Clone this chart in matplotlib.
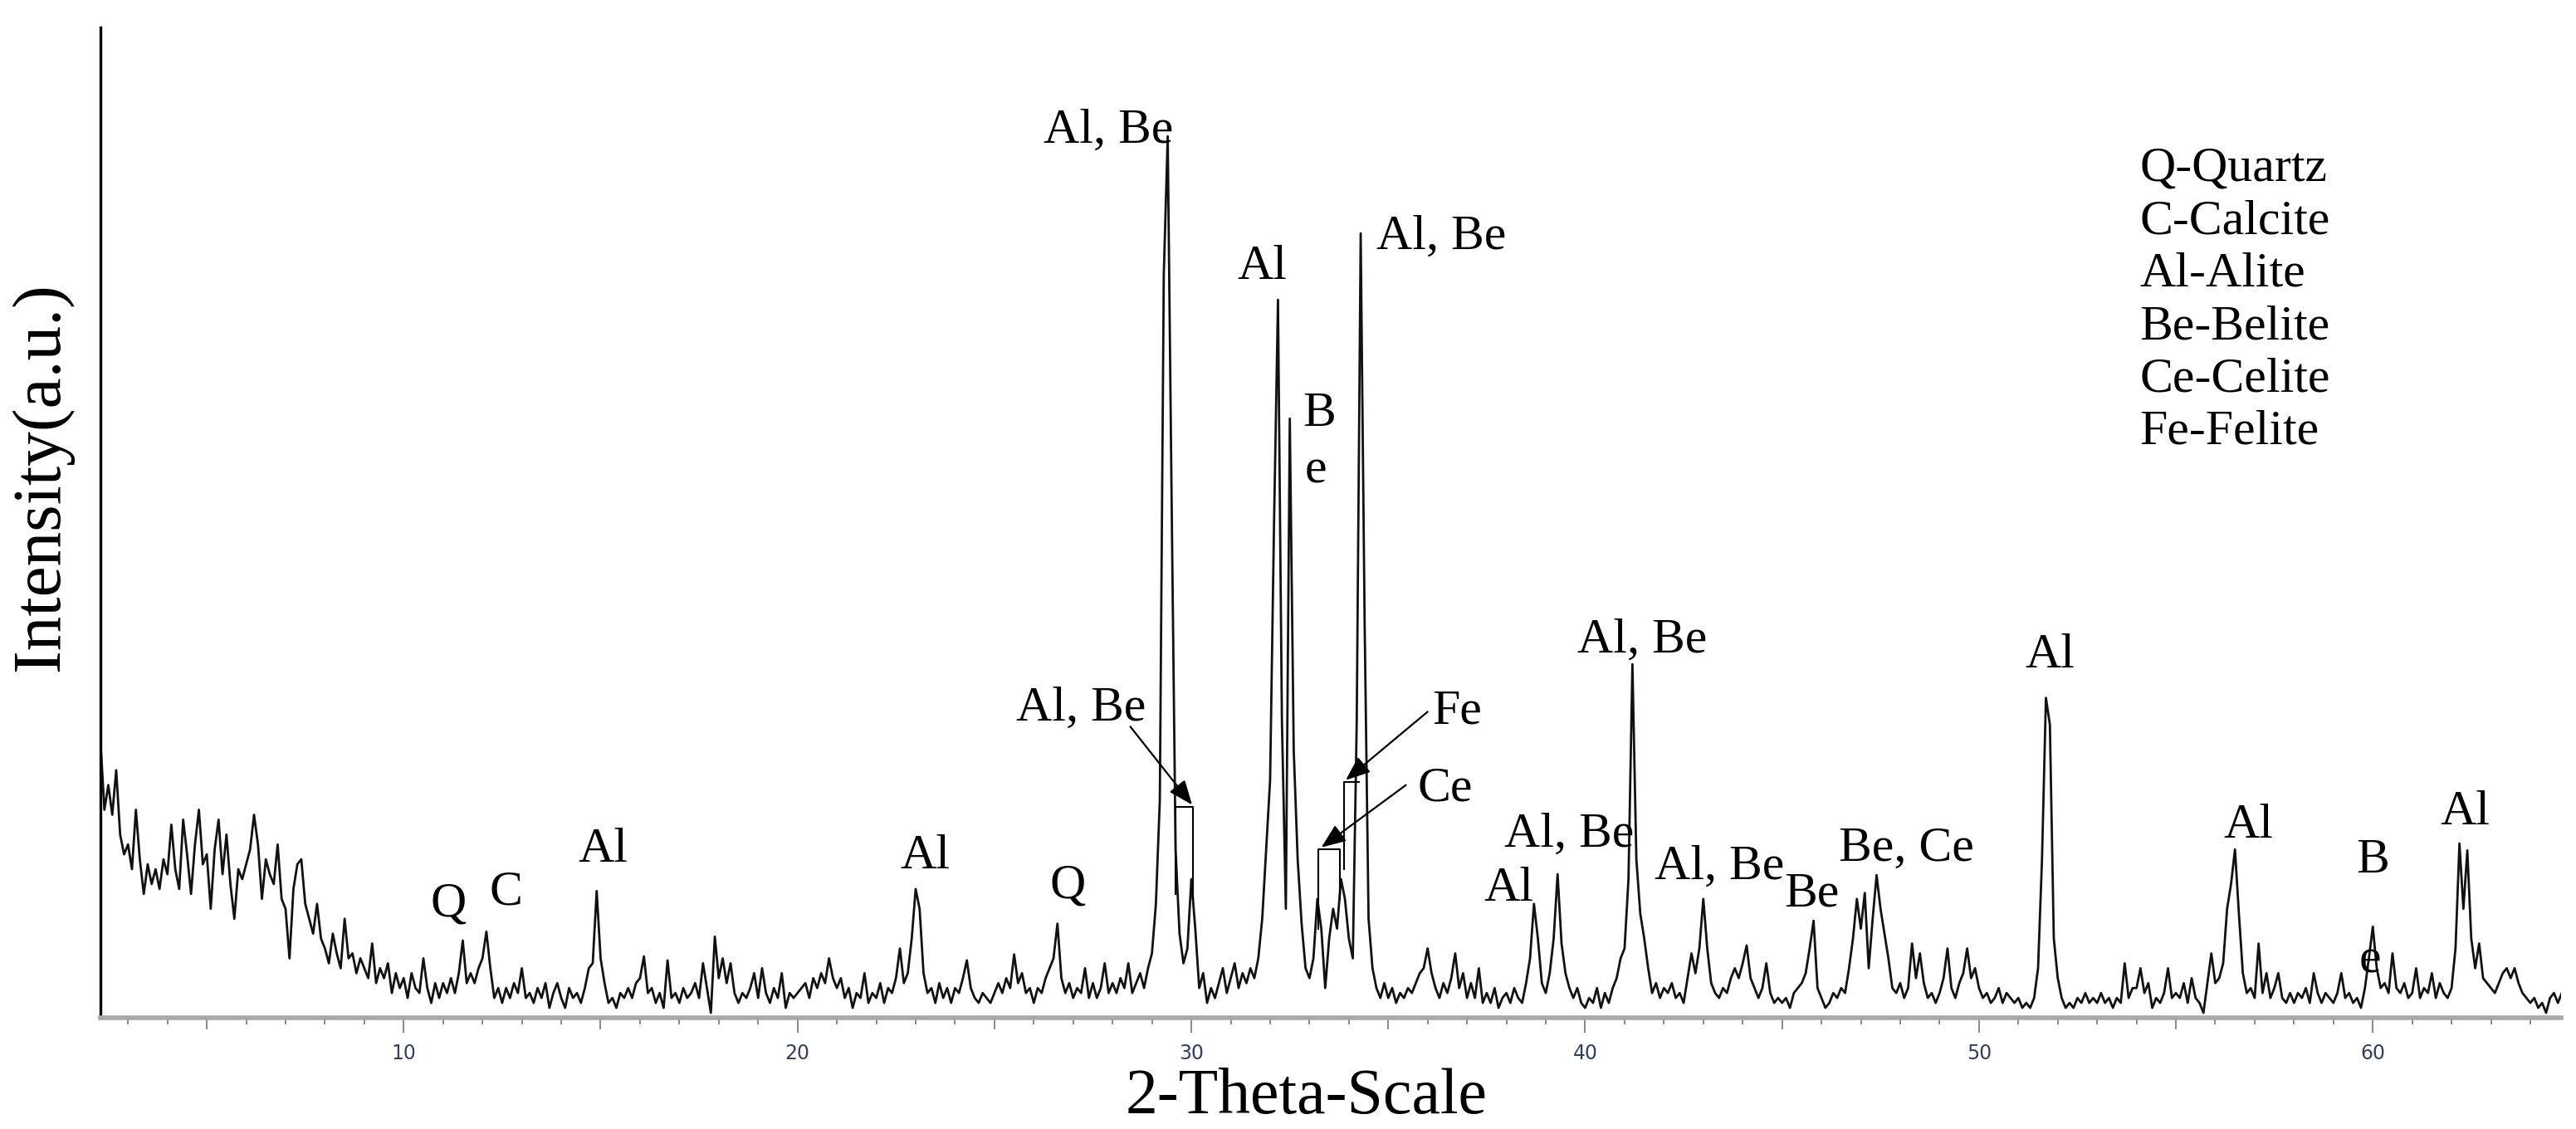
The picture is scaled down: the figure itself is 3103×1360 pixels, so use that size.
import numpy as np
import matplotlib.pyplot as plt
from matplotlib.ticker import MultipleLocator, FuncFormatter

plt.rcParams['font.family'] = ['Liberation Serif', 'DejaVu Serif']

# XRD scan: 2-theta from 2.3 deg in 0.1 deg steps
theta_start = 2.3
theta_step = 0.1
intensity = [
    # 2.3 - 2.9
    28.0, 21.0, 23.5, 20.5, 25.0, 18.5, 16.5,
    17.5, 15.0, 21.0, 16.0, 12.5, 15.5, 13.5, 15.0, 13.0, 16.0,   # 3
    14.5, 19.5, 15.0, 13.0, 20.0, 16.5, 12.5, 17.5, 21.0, 15.5,   # 4
    16.5, 11.0, 17.0, 20.0, 14.5, 18.5, 13.5, 10.0, 15.0, 14.0,   # 5
    15.5, 17.0, 20.5, 17.5, 12.0, 16.0, 14.5, 13.5, 17.5, 12.0,   # 6
    11.0, 6.0, 13.0, 15.5, 16.0, 11.5, 10.0, 8.5, 11.5, 8.0,      # 7
    7.0, 5.5, 8.5, 6.5, 5.0, 10.0, 6.0, 6.5, 4.5, 6.0,            # 8
    5.0, 4.0, 7.5, 3.5, 5.0, 4.0, 5.5, 2.5, 4.5, 3.0,             # 9
    4.0, 2.0, 4.5, 3.0, 2.5, 6.0, 3.0, 1.5, 3.5, 2.0,             # 10
    3.5, 2.5, 4.0, 2.5, 4.5, 7.8, 3.5, 4.5, 3.5, 5.0,             # 11
    6.0, 8.7, 5.0, 2.0, 3.0, 1.5, 3.0, 2.0, 3.5, 2.5,             # 12
    5.0, 2.0, 2.5, 1.5, 3.0, 2.0, 3.5, 1.0, 2.5, 3.5,             # 13
    2.0, 1.0, 3.0, 2.0, 2.5, 1.5, 3.0, 5.0, 5.5, 12.8,            # 14
    6.0, 3.5, 1.5, 2.0, 1.0, 2.5, 2.0, 3.0, 2.0, 3.5,             # 15
    4.0, 6.2, 2.5, 3.0, 1.5, 2.5, 1.0, 5.8, 2.0, 2.5,             # 16
    1.5, 3.0, 2.0, 2.5, 3.5, 2.0, 5.5, 3.0, 0.5, 8.2,             # 17
    4.0, 6.0, 3.5, 5.5, 2.5, 1.5, 2.5, 2.0, 3.0, 4.5,             # 18
    2.0, 5.0, 2.5, 1.5, 3.0, 2.0, 4.5, 1.0, 2.5, 2.0,             # 19
    2.5, 3.0, 3.5, 2.0, 4.0, 3.0, 4.5, 3.5, 6.0, 4.0,             # 20
    3.0, 4.0, 2.0, 3.0, 1.0, 2.5, 2.0, 4.5, 1.5, 2.5,             # 21
    2.0, 3.5, 1.5, 3.0, 2.5, 4.0, 7.0, 3.5, 4.5, 8.0,             # 22
    13.0, 11.0, 4.5, 2.5, 3.0, 1.5, 3.5, 2.0, 3.0, 1.5,           # 23
    3.0, 2.5, 4.0, 5.8, 3.0, 2.0, 1.5, 2.5, 2.0, 1.5,             # 24
    2.5, 3.5, 2.5, 4.0, 3.0, 6.4, 3.5, 4.5, 2.5, 3.0,             # 25
    1.5, 3.0, 2.5, 4.0, 5.0, 6.0, 9.5, 4.0, 2.5, 3.5,             # 26
    2.0, 3.0, 2.5, 5.0, 2.0, 3.5, 2.0, 3.0, 5.5, 2.5,             # 27
    3.5, 2.5, 4.0, 3.0, 5.5, 2.5, 3.5, 4.5, 3.0, 5.0,             # 28
    6.5, 11.5, 22.0, 75.0, 89.0, 52.0, 17.0, 8.5, 5.5, 7.0,       # 29
    14.0, 9.0, 3.0, 4.5, 1.5, 3.0, 2.0, 3.5, 5.0, 2.5,            # 30
    4.0, 5.5, 3.0, 4.5, 3.5, 5.0, 4.0, 6.0, 10.0, 17.0,           # 31
    24.0, 50.0, 72.5, 30.0, 11.0, 60.5, 27.0, 16.0, 9.5, 5.0,     # 32
    4.0, 6.0, 12.0, 9.0, 3.0, 8.0, 11.0, 9.0, 14.0, 12.0,         # 33
    8.0, 6.0, 30.0, 79.2, 40.0, 10.0, 5.0, 3.0, 2.0, 3.5,         # 34
    2.0, 3.0, 1.5, 2.5, 2.0, 3.0, 2.5, 3.5, 4.5, 5.0,             # 35
    7.0, 4.5, 3.0, 2.0, 3.5, 2.5, 4.0, 6.5, 3.0, 4.5,             # 36
    2.0, 3.5, 2.0, 5.0, 1.5, 2.5, 1.5, 3.0, 1.0, 2.0,             # 37
    2.5, 1.5, 3.0, 2.0, 1.5, 3.5, 6.0, 11.5, 8.0, 3.5,            # 38
    2.5, 4.5, 8.0, 14.5, 7.5, 4.5, 3.0, 2.0, 3.0, 1.5,            # 39
    1.0, 2.0, 1.5, 3.0, 1.0, 2.5, 1.5, 3.0, 4.0, 6.0,             # 40
    7.0, 14.0, 35.7, 16.0, 10.5, 8.0, 5.0, 2.5, 3.5, 2.0,         # 41
    3.0, 2.5, 3.5, 2.0, 2.5, 1.5, 4.0, 6.5, 4.5, 7.0,             # 42
    12.0, 7.0, 3.5, 2.5, 2.0, 3.0, 2.5, 4.0, 5.0, 4.0,            # 43
    5.5, 7.3, 4.0, 3.0, 2.0, 3.0, 5.5, 2.5, 1.5, 2.0,             # 44
    1.5, 2.0, 1.0, 2.5, 3.0, 3.5, 4.5, 7.0, 9.8, 3.0,             # 45
    2.0, 1.0, 1.5, 2.5, 2.0, 3.0, 2.5, 5.0, 8.0, 12.0,            # 46
    9.0, 12.6, 5.0, 10.0, 14.4, 11.0, 8.5, 6.0, 3.0, 2.5,         # 47
    3.5, 2.0, 3.0, 7.5, 4.0, 6.5, 3.5, 2.0, 2.5, 1.5,             # 48
    2.5, 4.0, 7.0, 3.0, 2.0, 3.5, 4.5, 7.0, 4.0, 5.0,             # 49
    3.0, 2.0, 2.5, 1.5, 2.0, 3.0, 1.5, 2.5, 2.0, 1.5,             # 50
    2.0, 1.0, 1.5, 1.0, 2.0, 5.0, 16.0, 32.3, 29.6, 8.0,          # 51
    4.0, 2.0, 1.0, 1.5, 1.0, 2.0, 1.5, 2.5, 1.5, 2.0,             # 52
    1.5, 2.5, 1.5, 2.0, 1.0, 2.0, 1.5, 5.5, 2.0, 3.0,             # 53
    3.0, 5.0, 2.5, 3.5, 1.0, 2.0, 1.5, 2.5, 5.0, 2.0,             # 54
    2.5, 2.0, 3.5, 1.5, 4.0, 2.0, 1.5, 0.5, 3.5, 6.5,             # 55
    3.5, 4.0, 5.5, 11.0, 13.5, 17.0, 10.5, 4.5, 2.5, 3.0,         # 56
    2.0, 7.5, 2.5, 4.5, 2.0, 3.0, 4.5, 2.0, 1.5, 2.5,             # 57
    1.5, 2.5, 2.0, 3.0, 1.5, 4.5, 2.5, 1.5, 2.5, 2.0,             # 58
    1.5, 2.5, 4.5, 2.0, 2.5, 1.5, 2.0, 1.0, 3.0, 6.0,             # 59
    9.2, 5.0, 3.0, 3.5, 2.5, 6.5, 3.0, 2.5, 3.5, 2.0,             # 60
    2.5, 5.0, 2.0, 3.0, 2.5, 4.5, 2.0, 3.5, 2.5, 2.0,             # 61
    3.0, 7.0, 17.6, 11.0, 16.9, 8.0, 5.0, 7.5, 4.0, 3.5,          # 62
    3.0, 2.5, 3.5, 4.5, 5.0, 4.0, 5.0, 3.5, 2.5, 2.0,             # 63
    1.5, 2.0, 1.0, 1.5, 0.5, 2.0, 2.5, 1.5, 2.5,                  # 64
]
two_theta = np.round(theta_start + theta_step * np.arange(len(intensity)), 2)

# phase labels on the peaks
peak_labels = ['Q', 'C', 'Al', 'Al', 'Q', 'Al', 'B', 'e', 'Al', 'Al, Be', 'Al, Be',
               'Al, Be', 'Be', 'Be, Ce', 'Al', 'Al', 'B', 'e', 'Al']
peak_label_x = [11.13, 12.6, 15.07, 23.25, 26.85, 31.8, 33.25, 33.15, 38.05, 39.6, 41.45,
                43.4, 45.75, 48.15, 51.8, 56.85, 60.0, 59.93, 62.34]
peak_label_y = [10.3, 11.4, 15.8, 15.1, 12.1, 74.6, 59.8, 54.0, 11.8, 17.3, 36.9,
                14.0, 11.25, 15.9, 35.4, 18.2, 14.7, 4.6, 19.5]

legend_lines = ['Q-Quartz', 'C-Calcite', 'Al-Alite', 'Be-Belite', 'Ce-Celite', 'Fe-Felite']

fig = plt.figure(figsize=(31.03, 13.6), dpi=100)
ax = fig.add_axes([121 / 3103, 1 - 1226 / 1360, (3085 - 121) / 3103, (1226 - 33) / 1360])

ax.plot(two_theta, intensity, color='#111111', lw=2.0)
ax.set_xlim(2.3, 64.78)
ax.set_ylim(0, 100)

for s in ['top', 'right']:
    ax.spines[s].set_visible(False)
ax.spines['left'].set_color('black')
ax.spines['left'].set_linewidth(2.4)
ax.spines['bottom'].set_color('#a8a8a8')
ax.spines['bottom'].set_linewidth(4)
ax.set_yticks([])

ax.xaxis.set_major_locator(MultipleLocator(5))
ax.xaxis.set_minor_locator(MultipleLocator(1))
ax.xaxis.set_major_formatter(FuncFormatter(lambda v, p: '%d' % v if v % 10 == 0 else ''))
ax.tick_params(axis='x', which='major', length=13, width=1.5, color='#8c8c8c', pad=9,
               labelsize=17, labelcolor='#33415c')
ax.tick_params(axis='x', which='minor', length=6, width=1.5, color='#8c8c8c')
for lab in ax.get_xticklabels():
    lab.set_family('DejaVu Sans')
locs = ax.xaxis.get_majorticklocs()
for t, v in zip(ax.xaxis.get_major_ticks(len(locs)), locs):
    if v % 10 != 0:
        t.tick1line.set_markersize(10)

fs = 43
for s, x, y in zip(peak_labels, peak_label_x, peak_label_y):
    ax.text(x, y, s, fontsize=fs, ha='center', va='baseline')

# labels at the strong peaks
ax.text(29.54, 88.4, 'Al, Be', fontsize=fs, ha='right', va='baseline')
ax.text(34.7, 77.6, 'Al, Be', fontsize=fs, ha='left', va='baseline')

# arrow labels with their little boxes
ax.text(27.2, 30.0, 'Al, Be', fontsize=fs, ha='center', va='baseline')
ax.text(36.75, 29.7, 'Fe', fontsize=fs, ha='center', va='baseline')
ax.text(36.45, 21.9, 'Ce', fontsize=fs, ha='center', va='baseline')

arrow = dict(arrowstyle='-|>,head_length=0.45,head_width=0.18', color='black', lw=1.6,
             shrinkA=0, shrinkB=0, mutation_scale=40)
ax.annotate('', xy=(30.02, 21.5), xytext=(28.45, 29.4), arrowprops=arrow)
ax.annotate('', xy=(33.92, 24.0), xytext=(36.0, 30.9), arrowprops=arrow)
ax.annotate('', xy=(33.3, 17.2), xytext=(35.45, 23.5), arrowprops=arrow)

ax.plot([29.6, 29.6, 30.05, 30.05], [12.5, 21.3, 21.3, 12.0], color='black', lw=1.5)
ax.plot([33.22, 33.22, 33.78, 33.78], [9.0, 17.0, 17.0, 12.0], color='black', lw=1.5)
ax.plot([33.87, 33.87, 34.25], [15.0, 23.8, 23.8], color='black', lw=1.5)

# key of the phase symbols
for i, s in enumerate(legend_lines):
    ax.text(54.08, 85.7 - i * 5.32, s, fontsize=fs, ha='left', va='center')

fig.text(0.507, 0.028, '2-Theta-Scale', fontsize=56, ha='center', va='center')
fig.text(0.0161, 0.578, 'Intensity(a.u.)', fontsize=60, rotation=90, ha='center', va='center')

fig.savefig('out.png', dpi=100)
